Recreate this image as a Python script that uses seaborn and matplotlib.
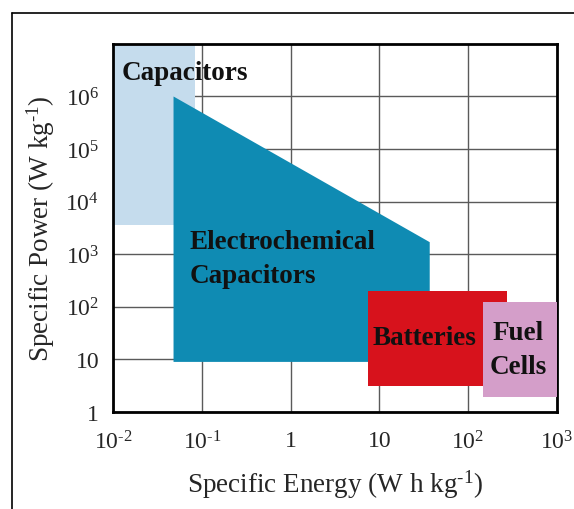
import numpy as np
import matplotlib
matplotlib.use("Agg")
import matplotlib.pyplot as plt
from matplotlib.lines import Line2D
import seaborn as sns

# Ragone plot regions (specific energy in W h/kg, specific power in W/kg)
cap_energy = [0.01, 0.083]
cap_power = [3600, 1e7]

ec_energy = [0.048, 0.048, 37, 37]
ec_power = [9, 1e6, 1700, 9]

bat_energy = [7.5, 272]
bat_power = [3.1, 204]

fc_energy = [148, 1000]
fc_power = [1.9, 126]

x_ticks = [1e-2, 1e-1, 1, 10, 1e2, 1e3]
x_labels = [r'$10^{\text{-}2}$', r'$10^{\text{-}1}$', '1', '10', '$10^{2}$', '$10^{3}$']
y_ticks = [1, 10, 1e2, 1e3, 1e4, 1e5, 1e6]
y_labels = ['1', '10', '$10^{2}$', '$10^{3}$', '$10^{4}$', '$10^{5}$', '$10^{6}$']

sns.set_style("white")
plt.rcParams['font.family'] = ['Liberation Serif', 'DejaVu Serif']
plt.rcParams['mathtext.fontset'] = 'custom'
plt.rcParams['mathtext.rm'] = 'Liberation Serif'
plt.rcParams['mathtext.it'] = 'Liberation Serif'

fig = plt.figure(figsize=(5.74, 5.10), dpi=100)
ax = fig.add_axes([0.197, 0.19, 0.773, 0.722])
ax.set_xscale('log')
ax.set_yscale('log')
ax.set_xlim(1e-2, 1e3)
ax.set_ylim(1, 1e7)

ax.grid(True, which='major', color='#5a5a5a', lw=1)
ax.set_axisbelow(True)

ax.fill_between(cap_energy, cap_power[0], cap_power[1], color='#c5dced', lw=0, zorder=2)
ax.fill(ec_energy, ec_power, color='#0f8bb3', lw=0, zorder=3)
ax.fill_between(bat_energy, bat_power[0], bat_power[1], color='#d7121c', lw=0, zorder=4)
ax.fill_between(fc_energy, fc_power[0], fc_power[1], color='#d49ec9', lw=0, zorder=5)

lab = dict(fontsize=19.5, fontweight='bold', color='#111111', zorder=6)
ax.text(0.0125, 10**6.46, 'Capacitors', ha='left', va='center', **lab)
ax.text(0.072, 10**2.92, 'Electrochemical\nCapacitors', ha='left', va='center',
        linespacing=1.45, **lab)
ax.text(8.3, 26, 'Batteries', ha='left', va='center', **lab)
ax.text(365, 15.6, 'Fuel\nCells', ha='center', va='center', linespacing=1.5, **lab)

ax.set_xticks(x_ticks)
ax.set_xticklabels(x_labels)
ax.set_yticks(y_ticks)
ax.set_yticklabels(y_labels)
ax.minorticks_off()
ax.tick_params(axis='x', which='major', direction='in', length=4, width=1,
               labelsize=17, pad=13)
ax.tick_params(axis='y', which='major', direction='in', length=4, width=1,
               labelsize=17, pad=10)

for s in ax.spines.values():
    s.set_color('black')
    s.set_linewidth(2)

ax.set_xlabel(r'Specific Energy (W h kg$^{\text{-}1}$)', fontsize=19.5, labelpad=10)
ax.set_ylabel(r'Specific Power (W kg$^{\text{-}1}$)', fontsize=19.5, labelpad=6)

# outer frame (top and left edges)
fig.add_artist(Line2D([0.021, 1.0], [0.9725, 0.9725], color='black', lw=1.2))
fig.add_artist(Line2D([0.021, 0.021], [0.0, 0.9725], color='black', lw=1.2))

fig.savefig('out.png', dpi=100)
